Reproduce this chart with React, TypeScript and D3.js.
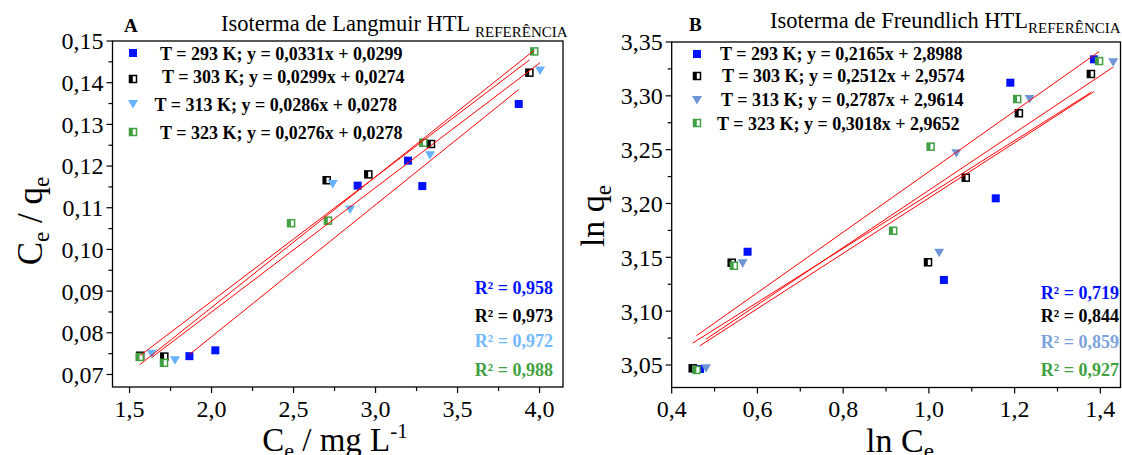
import React from 'react';
import * as d3 from 'd3';

// ---------- DATA ----------
const temperatures = ['293 K', '303 K', '313 K', '323 K'];

// Panel A – Langmuir: Ce (mg/L) vs Ce/qe
const langCe293 = [1.865, 2.023, 2.891, 3.198, 3.285, 3.873];
const langY293 = [0.0744, 0.0758, 0.1153, 0.1213, 0.1152, 0.1349];
const langCe303 = [1.565, 1.712, 2.702, 2.956, 3.338, 3.938];
const langY303 = [0.0745, 0.0743, 0.1166, 0.118, 0.1253, 0.1424];
const langCe313 = [1.635, 1.777, 2.739, 2.845, 3.332, 4.003];
const langY313 = [0.075, 0.0734, 0.1157, 0.1096, 0.1226, 0.1429];
const langCe323 = [1.562, 1.71, 2.485, 2.71, 3.291, 3.968];
const langY323 = [0.0742, 0.0728, 0.1063, 0.1069, 0.1256, 0.1475];

// Panel B – Freundlich: ln Ce vs ln qe
const frX293 = [0.466, 0.577, 1.035, 1.156, 1.19, 1.385];
const frY293 = [3.0463, 3.1552, 3.129, 3.2048, 3.3122, 3.3339];
const frX303 = [0.449, 0.54, 0.998, 1.086, 1.21, 1.378];
const frY303 = [3.0469, 3.145, 3.1454, 3.224, 3.2838, 3.3203];
const frX313 = [0.48, 0.5655, 1.024, 1.064, 1.235, 1.43];
const frY313 = [3.0469, 3.1445, 3.1543, 3.2466, 3.297, 3.3311];
const frX323 = [0.458, 0.545, 0.9166, 1.004, 1.206, 1.397];
const frY323 = [3.0454, 3.1422, 3.1747, 3.2528, 3.297, 3.3323];

const langLegend = [
  'T = 293 K; y = 0,0331x + 0,0299',
  'T = 303 K; y = 0,0299x + 0,0274',
  'T = 313 K; y = 0,0286x + 0,0278',
  'T = 323 K; y = 0,0276x + 0,0278',
];
const frLegend = [
  'T = 293 K; y = 0,2165x + 2,8988',
  'T = 303 K; y = 0,2512x + 2,9574',
  'T = 313 K; y = 0,2787x + 2,9614',
  'T = 323 K; y = 0,3018x + 2,9652',
];
const langR2 = ['R² = 0,958', 'R² = 0,973', 'R² = 0,972', 'R² = 0,988'];
const frR2 = ['R² = 0,719', 'R² = 0,844', 'R² = 0,859', 'R² = 0,927'];

const langXMajor = [1.5, 2.0, 2.5, 3.0, 3.5, 4.0];
const langXMinor = [1.75, 2.25, 2.75, 3.25, 3.75];
const langYMajor = [0.07, 0.08, 0.09, 0.1, 0.11, 0.12, 0.13, 0.14, 0.15];
const langYMinor = [0.075, 0.085, 0.095, 0.105, 0.115, 0.125, 0.135, 0.145];
const frXMajor = [0.4, 0.6, 0.8, 1.0, 1.2, 1.4];
const frXMinor = [0.5, 0.7, 0.9, 1.1, 1.3];
const frYMajor = [3.05, 3.1, 3.15, 3.2, 3.25, 3.3, 3.35];
const frYMinor = [3.075, 3.125, 3.175, 3.225, 3.275, 3.325];

// ---------- STYLE ----------
const FONT = '"Liberation Serif", "Times New Roman", serif';
const BLUE = '#0011ff';
const BLACK = '#000000';
const LIGHTBLUE = '#66b2ff';
const STEELBLUE = '#6e96d6';
const GREEN = '#41a041';

type Kind = 'square' | 'half' | 'tri';

const Marker = ({ kind, color, x, y }: { kind: Kind; color: string; x: number; y: number }) => {
  if (kind === 'square') return <rect x={x - 4} y={y - 4} width={8} height={8} fill={color} />;
  if (kind === 'half')
    return (
      <g>
        <rect x={x - 3.5} y={y - 3.5} width={7} height={7} fill="white" stroke={color} strokeWidth={1.5} />
        <rect x={x - 3.5} y={y - 3.5} width={3.3} height={7} fill={color} />
      </g>
    );
  return <path d={`M${x - 5},${y - 4}L${x + 5},${y - 4}L${x},${y + 4.5}Z`} fill={color} />;
};

function fit(xs: number[], ys: number[]) {
  const mx = d3.mean(xs)!;
  const my = d3.mean(ys)!;
  const sxy = d3.sum(xs.map((x, i) => (x - mx) * (ys[i] - my)));
  const sxx = d3.sum(xs.map((x) => (x - mx) * (x - mx)));
  const b = sxy / sxx;
  const a = my - b * mx;
  const [x0, x1] = d3.extent(xs) as [number, number];
  return { x0, x1, y0: a + b * x0, y1: a + b * x1 };
}

type Series = { xs: number[]; ys: number[]; kind: Kind; color: string };

function Panel(props: {
  x: d3.ScaleLinear<number, number>;
  y: d3.ScaleLinear<number, number>;
  xMajor: number[];
  xMinor: number[];
  yMajor: number[];
  yMinor: number[];
  xFmt: (v: number) => string;
  yFmt: (v: number) => string;
  series: Series[];
}) {
  const { x, y, xMajor, xMinor, yMajor, yMinor, xFmt, yFmt, series } = props;
  const [xl, xr] = x.range();
  const [yb, yt] = y.range();
  return (
    <g>
      {series.map((s, si) =>
        s.xs.map((v, i) => <Marker key={`m${si}-${i}`} kind={s.kind} color={s.color} x={x(v)} y={y(s.ys[i])} />)
      )}
      {series.map((s, si) => {
        const f = fit(s.xs, s.ys);
        return (
          <line key={`l${si}`} x1={x(f.x0)} y1={y(f.y0)} x2={x(f.x1)} y2={y(f.y1)} stroke="#ff0000" strokeWidth={1} />
        );
      })}
      <rect x={xl} y={yt} width={xr - xl} height={yb - yt} fill="none" stroke="#000" strokeWidth={1.3} />
      {xMajor.map((v) => (
        <g key={`xM${v}`}>
          <line x1={x(v)} x2={x(v)} y1={yb} y2={yb + 6} stroke="#000" strokeWidth={1.2} />
          <text x={x(v)} y={yb + 29.5} textAnchor="middle" fontSize={24} fontFamily={FONT}>
            {xFmt(v)}
          </text>
        </g>
      ))}
      {xMinor.map((v) => (
        <line key={`xm${v}`} x1={x(v)} x2={x(v)} y1={yb} y2={yb + 4} stroke="#000" strokeWidth={1.2} />
      ))}
      {yMajor.map((v) => (
        <g key={`yM${v}`}>
          <line x1={xl - 6} x2={xl} y1={y(v)} y2={y(v)} stroke="#000" strokeWidth={1.2} />
          <text x={xl - 9} y={y(v)} dy="0.35em" textAnchor="end" fontSize={24} fontFamily={FONT}>
            {yFmt(v)}
          </text>
        </g>
      ))}
      {yMinor.map((v) => (
        <line key={`ym${v}`} x1={xl - 4} x2={xl} y1={y(v)} y2={y(v)} stroke="#000" strokeWidth={1.2} />
      ))}
    </g>
  );
}

const comma = (f: string) => (v: number) => d3.format(f)(v).replace('.', ',');

export default function App() {
  const lx = d3.scaleLinear().domain([1.396, 4.143]).range([112.5, 563]);
  const ly = d3.scaleLinear().domain([0.067, 0.15]).range([387, 41]);
  const rx = d3.scaleLinear().domain([0.4, 1.447]).range([671.7, 1120.5]);
  const ry = d3.scaleLinear().domain([3.0291, 3.35]).range([387.5, 42]);

  const kinds: Kind[] = ['square', 'half', 'tri', 'half'];
  const langColors = [BLUE, BLACK, LIGHTBLUE, GREEN];
  const frColors = [BLUE, BLACK, STEELBLUE, GREEN];
  const langSeries: Series[] = [
    { xs: langCe293, ys: langY293, kind: kinds[0], color: langColors[0] },
    { xs: langCe303, ys: langY303, kind: kinds[1], color: langColors[1] },
    { xs: langCe313, ys: langY313, kind: kinds[2], color: langColors[2] },
    { xs: langCe323, ys: langY323, kind: kinds[3], color: langColors[3] },
  ];
  const frSeries: Series[] = [
    { xs: frX293, ys: frY293, kind: kinds[0], color: frColors[0] },
    { xs: frX303, ys: frY303, kind: kinds[1], color: frColors[1] },
    { xs: frX313, ys: frY313, kind: kinds[2], color: frColors[2] },
    { xs: frX323, ys: frY323, kind: kinds[3], color: frColors[3] },
  ];

  const langLegMarkY = [53, 79, 104, 132];
  const langLegTextX = [160, 162, 154.5, 160];
  const langLegTextY = [59.5, 83, 111, 138.5];
  const frLegMarkY = [54, 76, 100, 123];
  const frLegTextX = [720, 722, 721, 717];
  const frLegTextY = [60, 82, 106, 129.5];
  const langR2Y = [294, 321.7, 347.3, 376];
  const frR2Y = [298.5, 322, 347.5, 376];
  const langR2Colors = [BLUE, BLACK, '#70b8ff', GREEN];
  const frR2Colors = [BLUE, BLACK, '#7ba3dc', GREEN];

  return (
    <svg
      width={1122}
      height={455}
      style={{ position: 'absolute', left: 0, top: 0, background: '#fff' }}
      fontFamily={FONT}
    >
      <rect width={1122} height={455} fill="#fff" />
      <Panel
        x={lx}
        y={ly}
        xMajor={langXMajor}
        xMinor={langXMinor}
        yMajor={langYMajor}
        yMinor={langYMinor}
        xFmt={comma('.1f')}
        yFmt={comma('.2f')}
        series={langSeries}
      />
      <Panel
        x={rx}
        y={ry}
        xMajor={frXMajor}
        xMinor={frXMinor}
        yMajor={frYMajor}
        yMinor={frYMinor}
        xFmt={comma('.1f')}
        yFmt={comma('.2f')}
        series={frSeries}
      />

      {/* Legends */}
      {temperatures.map((t, i) => (
        <g key={`ll${t}`}>
          <Marker kind={kinds[i]} color={langColors[i]} x={133} y={langLegMarkY[i]} />
          <text x={langLegTextX[i]} y={langLegTextY[i]} fontSize={18} fontWeight="bold">
            {langLegend[i]}
          </text>
          <Marker kind={kinds[i]} color={frColors[i]} x={697} y={frLegMarkY[i]} />
          <text x={frLegTextX[i]} y={frLegTextY[i]} fontSize={18} fontWeight="bold">
            {frLegend[i]}
          </text>
          <text x={553} y={langR2Y[i]} textAnchor="end" fontSize={18} fontWeight="bold" fill={langR2Colors[i]}>
            {langR2[i]}
          </text>
          <text x={1119} y={frR2Y[i]} textAnchor="end" fontSize={18} fontWeight="bold" fill={frR2Colors[i]}>
            {frR2[i]}
          </text>
        </g>
      ))}

      {/* Titles */}
      <text x={124} y={32} fontSize={19} fontWeight="bold">A</text>
      <text x={221} y={31} fontSize={22.5}>
        Isoterma de Langmuir HTL{' '}
        <tspan fontSize={15} dy={6}>REFERÊNCIA</tspan>
      </text>
      <text x={689} y={31} fontSize={19} fontWeight="bold">B</text>
      <text x={770} y={28} fontSize={22.5}>
        Isoterma de Freundlich HTL<tspan fontSize={15} dy={5}>REFERÊNCIA</tspan>
      </text>

      {/* Axis titles */}
      <text x={335} y={451} textAnchor="middle" fontSize={33}>
        C<tspan fontSize={22} dy={7}>e</tspan>
        <tspan dy={-7}> / mg L</tspan>
        <tspan fontSize={21} dy={-13}>-1</tspan>
      </text>
      <text transform="translate(42,221) rotate(-90)" textAnchor="middle" fontSize={35}>
        C<tspan fontSize={23} dy={7}>e</tspan>
        <tspan dy={-7}> / q</tspan>
        <tspan fontSize={23} dy={7}>e</tspan>
      </text>
      <text x={900} y={452} textAnchor="middle" fontSize={34}>
        ln C<tspan fontSize={23} dy={7}>e</tspan>
      </text>
      <text transform="translate(604,216) rotate(-90)" textAnchor="middle" fontSize={34}>
        ln q<tspan fontSize={23} dy={7}>e</tspan>
      </text>
    </svg>
  );
}
